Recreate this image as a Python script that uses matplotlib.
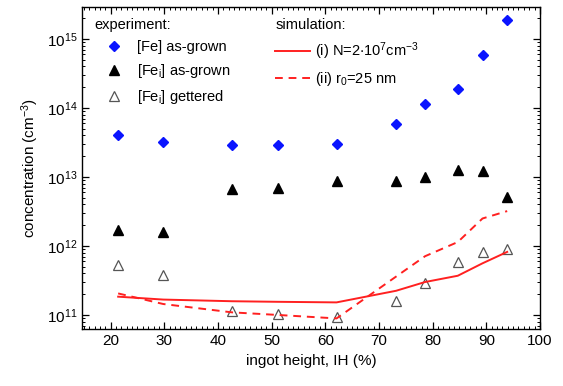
import numpy as np
import matplotlib
matplotlib.use("Agg")
import matplotlib.pyplot as plt
from matplotlib.ticker import MultipleLocator, LogLocator, NullFormatter

plt.rcParams['font.family'] = ['Liberation Sans', 'DejaVu Sans']
plt.rcParams['mathtext.fontset'] = 'custom'
plt.rcParams['mathtext.rm'] = 'Liberation Sans'
plt.rcParams['mathtext.it'] = 'Liberation Sans:italic'
plt.rcParams['mathtext.default'] = 'regular'

# ingot height (%) of the measured wafers
ih = [21.4, 29.8, 42.6, 51.1, 62.1, 73.2, 78.6, 84.7, 89.3, 93.9]

# experiment
fe_grown = [4.0e13, 3.2e13, 2.9e13, 2.9e13, 3.0e13, 5.9e13, 1.15e14, 1.9e14, 5.8e14, 1.9e15]
fei_grown = [1.7e12, 1.6e12, 6.7e12, 7.0e12, 8.7e12, 8.6e12, 1.0e13, 1.26e13, 1.24e13, 5.2e12]
fei_gettered = [5.3e11, 3.8e11, 1.14e11, 1.03e11, 9.3e10, 1.6e11, 2.9e11, 5.9e11, 8.2e11, 8.9e11]

# simulation
sim_i = [1.84e11, 1.67e11, 1.58e11, 1.55e11, 1.52e11, 2.24e11, 3.0e11, 3.7e11, 5.6e11, 8.2e11]
sim_ii = [2.05e11, 1.44e11, 1.09e11, 1.0e11, 8.9e10, 3.6e11, 7.1e11, 1.14e12, 2.5e12, 3.2e12]

fig = plt.figure(figsize=(5.63, 3.86), dpi=100)
ax = fig.add_axes([0.146, 0.147, 0.813, 0.836])

h1, = ax.plot(ih, fe_grown, 'D', color='#0a14ff', markersize=5, ls='none', label='[Fe] as-grown')
h2, = ax.plot(ih, fei_grown, '^', color='black', markersize=6.5, ls='none', label='[Fe$_\\mathrm{i}$] as-grown')
h3, = ax.plot(ih, fei_gettered, '^', mfc='white', mec='#555555', mew=0.9, markersize=6.5,
              ls='none', label='[Fe$_\\mathrm{i}$] gettered')
l1, = ax.plot(ih, sim_i, '-', color='#ff2020', lw=1.4, label='(i) N=2$\\cdot$10$^7$cm$^{-3}$')
l2, = ax.plot(ih, sim_ii, '--', color='#ff2020', lw=1.4, dashes=(4, 3), label='(ii) r$_0$=25 nm')

ax.set_yscale('log')
ax.set_xlim(14.7, 100)
ax.set_ylim(6.2e10, 2.95e15)
ax.xaxis.set_major_locator(MultipleLocator(10))
ax.xaxis.set_minor_locator(MultipleLocator(1))
ax.yaxis.set_major_locator(LogLocator(base=10, numticks=10))
ax.yaxis.set_minor_locator(LogLocator(base=10, subs=np.arange(2, 10), numticks=20))
ax.yaxis.set_minor_formatter(NullFormatter())
ax.tick_params(which='both', direction='in', top=True, right=True, labelsize=11)
ax.tick_params(which='major', length=5, width=0.9)
ax.tick_params(which='minor', length=2.5, width=0.7)
for s in ax.spines.values():
    s.set_linewidth(1.0)

ax.set_xlabel('ingot height, IH (%)', fontsize=11)
ax.set_ylabel('concentration (cm$^{-3}$)', fontsize=11)

leg1 = ax.legend(handles=[h1, h2, h3], title='experiment:', loc='upper left',
                 bbox_to_anchor=(0.005, 0.995), frameon=False, fontsize=10.5,
                 title_fontsize=10.5, handlelength=2.7, handletextpad=0.2,
                 labelspacing=0.55, borderaxespad=0.3)
leg1._legend_box.align = 'left'
ax.add_artist(leg1)
leg2 = ax.legend(handles=[l1, l2], title='simulation:', loc='upper left',
                 bbox_to_anchor=(0.4, 0.995), frameon=False, fontsize=10.5,
                 title_fontsize=10.5, handlelength=2.4, handletextpad=0.3,
                 labelspacing=0.55, borderaxespad=0.3)
leg2._legend_box.align = 'left'

fig.savefig('out.png', dpi=100)
